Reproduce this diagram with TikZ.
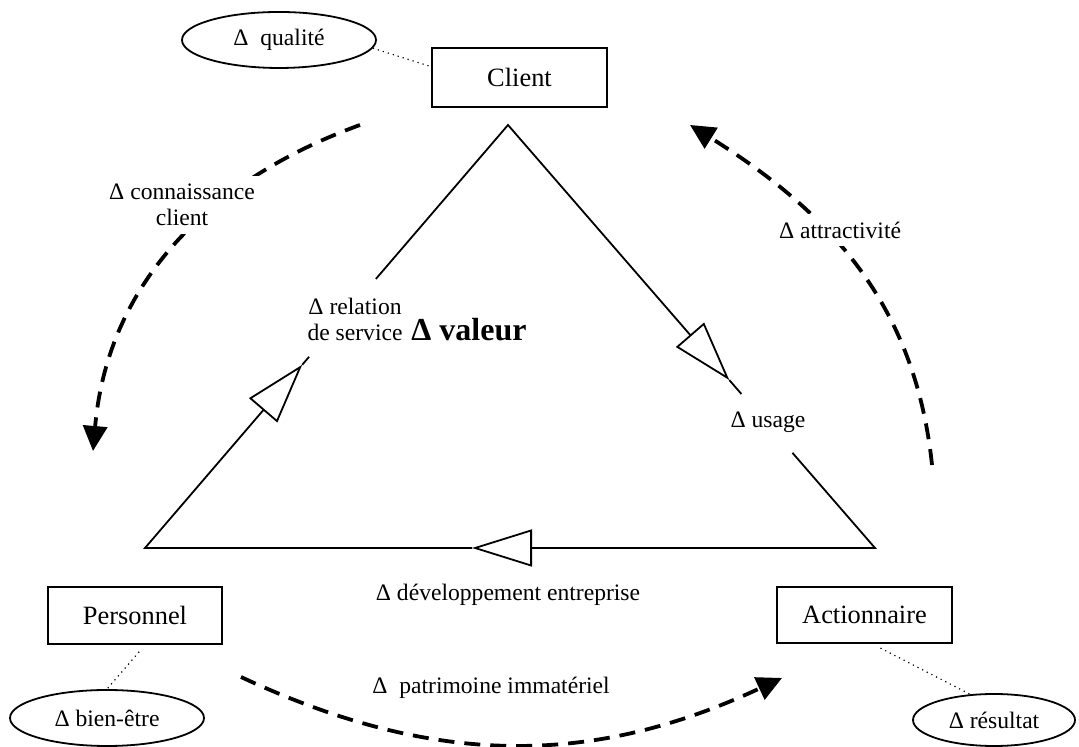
\documentclass[tikz,border=0pt]{standalone}
\usepackage{fontspec}
\setmainfont{Liberation Serif}
\usetikzlibrary{arrows.meta,shapes.geometric,calc}

\tikzset{
  acteur/.style={draw, line width=1pt, inner sep=0pt, font=\fontsize{13.2}{15}\selectfont},
  indic/.style={draw, ellipse, line width=0.9pt, inner sep=0pt, font=\fontsize{11.8}{14}\selectfont},
  etiq/.style={font=\fontsize{11.8}{13}\selectfont, align=center},
  coupe/.style={etiq, fill=white, inner sep=4pt},
  cote/.style={line width=0.9pt},
  fleche/.style={line width=0.9pt, line join=miter, -{Triangle[open, length=30pt, width=18.5pt]}},
  flux/.style={line width=1.9pt, dash pattern=on 8pt off 5pt, -{Triangle[length=12.5pt, width=12pt]}},
  lien/.style={dotted, line width=0.6pt}
}

\begin{document}
\begin{tikzpicture}[x=0.5pt, y=0.5pt]
\useasboundingbox (0,0) rectangle (1079,747);
% Acteurs
\node[acteur, minimum width=87.5pt, minimum height=29.5pt] (client) at (519.5,669.5) {Client};
\node[acteur, minimum width=87pt, minimum height=28.5pt] (pers) at (135,131.5) {Personnel};
\node[acteur, minimum width=87.5pt, minimum height=28pt] (act) at (864.5,132) {Actionnaire};
% Indicateurs
\node[indic, minimum width=97pt, minimum height=28pt] (qual) at (279,707) {Δ\ \ qualité};
\node[indic, minimum width=97pt, minimum height=28pt] (bien) at (107,29) {Δ bien-être};
\node[indic, minimum width=81pt, minimum height=26pt] (res) at (994,27) {Δ résultat};
\draw[lien] (qual.-5) -- (client.173);
\draw[lien, shorten <=4.5pt] ([xshift=5pt]pers.south) -- (bien.north);
\draw[lien, shorten <=4.5pt] ([xshift=4pt]act.south) -- (res.133);
% Triangle de la valeur
\coordinate (haut) at (508,622);
\coordinate (bg) at (145,199);
\coordinate (bd) at (875,199);
\coordinate (pointeG) at ($(bg)!0.433!(haut)$);
\coordinate (finG) at ($(bg)!0.452!(haut)$);
\coordinate (reprG) at ($(bg)!0.636!(haut)$);
\coordinate (pointeD) at ($(haut)!0.603!(bd)$);
\coordinate (finD) at ($(haut)!0.636!(bd)$);
\coordinate (reprD) at ($(haut)!0.775!(bd)$);
\coordinate (pointeB) at ($(bd)!0.552!(bg)$);
\draw[fleche] (pointeB) -- (bg) -- (pointeG);
\draw[fleche] (reprG) -- (haut) -- (pointeD);
\draw[fleche] (reprD) -- (bd) -- (pointeB);
\draw[cote] (pointeG) -- (finG);
\draw[cote] (pointeD) -- (finD);
\node[etiq] (rel) at (355,428) {Δ relation\\de service};
\node[etiq] (usage) at (768,325) {Δ usage};
\node[etiq] (dev) at (508,152) {Δ développement entreprise};
\node[font=\bfseries\fontsize{16}{18}\selectfont] (valeur) at (469,417) {Δ valeur};
% Flux entre acteurs
\coordinate (cA) at (360,622);
\coordinate (cB) at (93,296);
\draw[flux] (cA) to[out=200, in=85] (cB);
\node[coupe] (conn) at (182,542) {Δ connaissance\\client};
\coordinate (aA) at (932,282);
\coordinate (aB) at (690,622);
\draw[flux] (aA) to[out=96, in=-32] (aB);
\node[coupe] (attr) at (840,517) {Δ attractivité};
\coordinate (pA) at (241,70);
\coordinate (pB) at (782,69);
\draw[flux] (pA) to[out=-25, in=205] (pB);
\node[etiq] (patr) at (491,59) {Δ\ \ patrimoine immatériel};
\end{tikzpicture}
\end{document}
